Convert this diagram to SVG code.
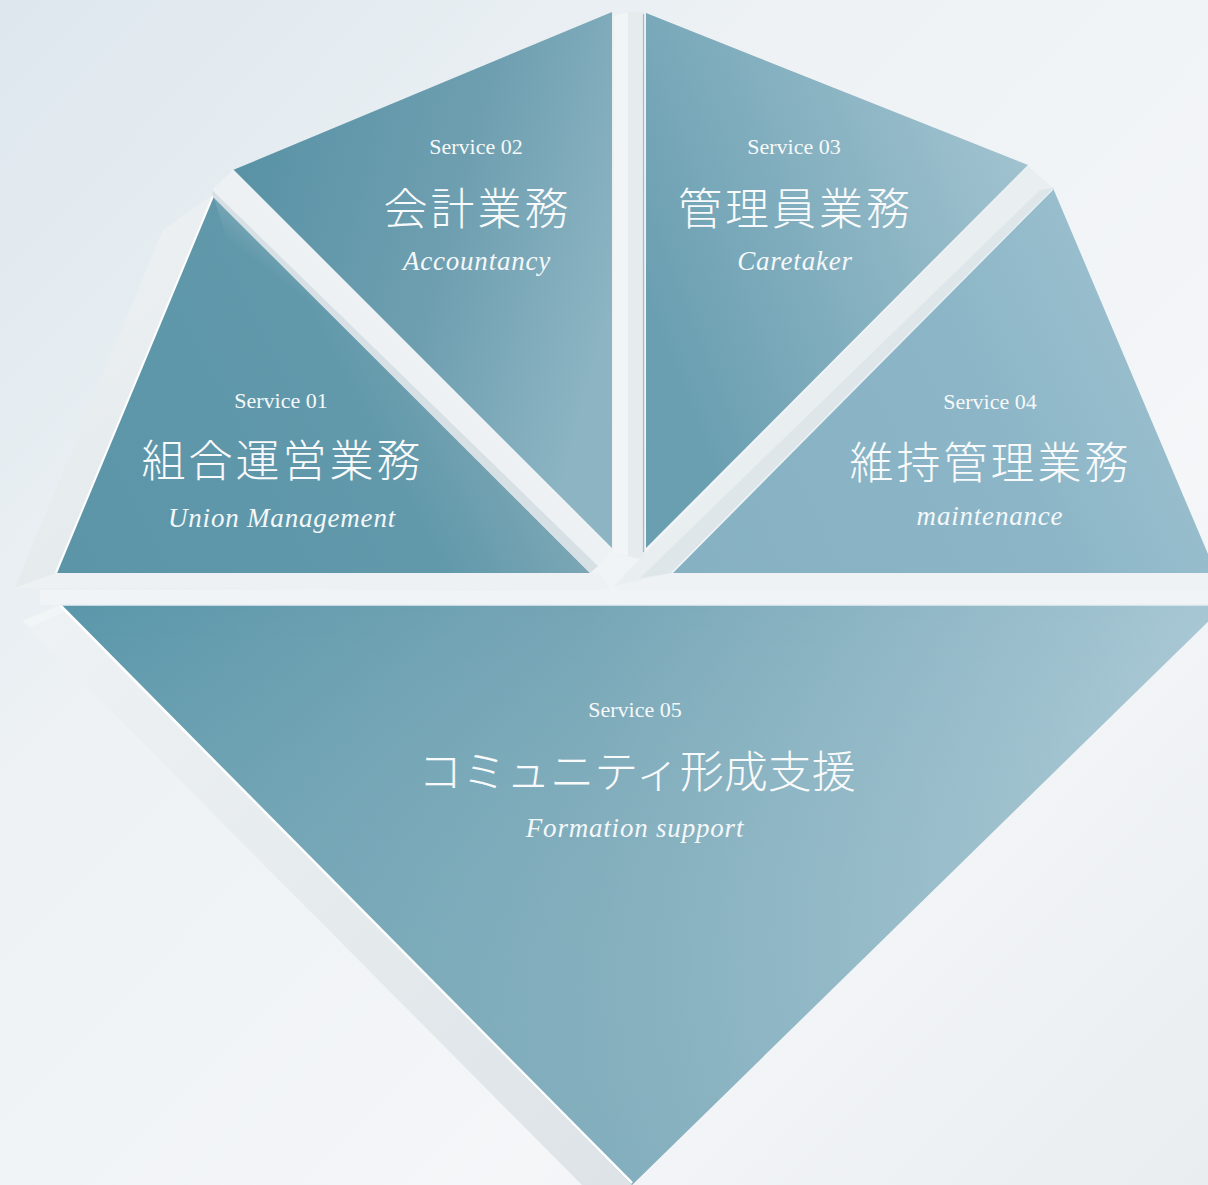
<svg xmlns="http://www.w3.org/2000/svg" width="1208" height="1185" viewBox="0 0 1208 1185">
  <defs>
    <linearGradient id="bg" x1="0" y1="0" x2="1208" y2="1185" gradientUnits="userSpaceOnUse">
      <stop offset="0" stop-color="#dde7ed"/>
      <stop offset="0.35" stop-color="#eef2f5"/>
      <stop offset="0.7" stop-color="#f4f6f8"/>
      <stop offset="1" stop-color="#e9edf0"/>
    </linearGradient>
    <linearGradient id="g1" x1="60" y1="560" x2="560" y2="300" gradientUnits="userSpaceOnUse">
      <stop offset="0" stop-color="#5c95a8"/>
      <stop offset="0.6" stop-color="#6199ab"/>
      <stop offset="1" stop-color="#8fb1bd"/>
    </linearGradient>
    <linearGradient id="g2" x1="240" y1="200" x2="612" y2="300" gradientUnits="userSpaceOnUse">
      <stop offset="0" stop-color="#5a93a6"/>
      <stop offset="0.55" stop-color="#6e9fb0"/>
      <stop offset="1" stop-color="#8cb4c3"/>
    </linearGradient>
    <linearGradient id="g3" x1="646" y1="300" x2="1028" y2="150" gradientUnits="userSpaceOnUse">
      <stop offset="0" stop-color="#6a9fb1"/>
      <stop offset="1" stop-color="#a2c3d0"/>
    </linearGradient>
    <linearGradient id="g4" x1="672" y1="560" x2="1208" y2="300" gradientUnits="userSpaceOnUse">
      <stop offset="0" stop-color="#86b1c2"/>
      <stop offset="0.6" stop-color="#8cb6c7"/>
      <stop offset="1" stop-color="#a0c3d1"/>
    </linearGradient>
    <linearGradient id="g5" x1="80" y1="700" x2="1200" y2="650" gradientUnits="userSpaceOnUse">
      <stop offset="0" stop-color="#5b97aa"/>
      <stop offset="0.45" stop-color="#76a6b6"/>
      <stop offset="1" stop-color="#a6c6d3"/>
    </linearGradient>
    <linearGradient id="g5v" x1="0" y1="605" x2="0" y2="1185" gradientUnits="userSpaceOnUse">
      <stop offset="0" stop-color="#ffffff" stop-opacity="0"/>
      <stop offset="1" stop-color="#9dbfcc" stop-opacity="0.3"/>
    </linearGradient>
    <linearGradient id="side" x1="0" y1="0" x2="1" y2="1">
      <stop offset="0" stop-color="#eef2f4"/>
      <stop offset="1" stop-color="#dde3e7"/>
    </linearGradient>
    <linearGradient id="shade1" x1="430" y1="330" x2="400" y2="370" gradientUnits="userSpaceOnUse">
      <stop offset="0" stop-color="#c7d5dc" stop-opacity="0.75"/>
      <stop offset="1" stop-color="#c7d5dc" stop-opacity="0"/>
    </linearGradient>
    <style>
      .face { stroke: none; }
      .side { fill: url(#side); }
      .svc { font-family: "Liberation Serif", serif; font-size: 22px; fill: #f6f9fa; text-anchor: middle; }
      .ttl { font-family: "Liberation Serif", "Noto Sans CJK JP", serif; font-size: 44px; font-weight: 300; letter-spacing: 3px; fill: #f8fafb; text-anchor: middle; }
      .sub { font-family: "Liberation Serif", serif; font-size: 27px; font-style: italic; letter-spacing: 0.8px; fill: #f4f8fa; text-anchor: middle; }
    </style>
  </defs>

  <!-- backdrop -->
  <rect width="1208" height="1185" fill="url(#bg)"/>

  <!-- Service 05: large inverted panel -->
  <g id="service-05">
    <polygon class="side" points="60,605 22,621 582,1185 632,1185" fill="#e1e6e9"/>
    <polygon points="22,621 60,605 64,612 30,627" fill="#f2f5f6"/>
    <rect x="40" y="590" width="1168" height="15" fill="#f1f4f6"/>
    <polygon class="face" points="60,605 1225,605 632,1185" fill="url(#g5)"/>
    <polygon class="face" points="60,605 1225,605 632,1185" fill="url(#g5v)"/>
    <line x1="60" y1="605" x2="632" y2="1183" stroke="#ffffff" stroke-width="2.5"/>
    <line x1="60" y1="605" x2="1208" y2="605" stroke="#e6eef2" stroke-width="1.5"/>
    <text class="svc" x="635" y="717">Service 05</text>
    <text class="ttl" x="637" y="788" style="letter-spacing:0">コミュニティ形成支援</text>
    <text class="sub" x="635" y="837">Formation support</text>
  </g>

  <!-- Service 01: lower-left panel -->
  <g id="service-01">
    <polygon class="side" points="213,195 163,230 15,588 600,590 590,573 56,573" fill="#e4e9ec"/>
    <polygon points="15,588 56,573 600,573 610,590" fill="#edf1f3"/>
    <polygon class="face" points="213,195 56,573 590,573" fill="url(#g1)"/>
    <polygon class="face" points="213,195 590,573 470,573 240,280" fill="url(#shade1)" opacity="0.5"/>
    <line x1="213" y1="196" x2="56" y2="573" stroke="#ffffff" stroke-width="2"/>
    <text class="svc" x="281" y="408">Service 01</text>
    <text class="ttl" x="282.5" y="477">組合運営業務</text>
    <text class="sub" x="282" y="527">Union Management</text>
  </g>

  <!-- Service 02: upper-left panel -->
  <g id="service-02">
    <polygon points="233,170 613,549 598,566 212,190" fill="#edf1f3"/>
    <polygon points="212,190 598,566 590,573 213,197" fill="#d7e0e5"/>
    <polygon class="face" points="233,170 612,12 612,549" fill="url(#g2)"/>
    <line x1="233" y1="170" x2="612" y2="549" stroke="#ffffff" stroke-width="1.5" stroke-opacity="0.7"/>
    <text class="svc" x="476" y="154">Service 02</text>
    <text class="ttl" x="477.5" y="225">会計業務</text>
    <text class="sub" x="477" y="270">Accountancy</text>
  </g>

  <!-- Service 03: upper-right panel -->
  <g id="service-03">
    <polygon points="614,16 628,12 644,12 645,560 614,553" fill="#e6ebee"/>
    <polygon points="614,16 628,12 628,556 614,553" fill="#f2f5f6"/>
    <line x1="643.5" y1="14" x2="643.5" y2="552" stroke="#aab9c1" stroke-width="1.2"/>
    <polygon class="face" points="646,13 1028,165 646,548" fill="url(#g3)"/>
    <text class="svc" x="794" y="154">Service 03</text>
    <text class="ttl" x="795.5" y="225">管理員業務</text>
    <text class="sub" x="795" y="270">Caretaker</text>
  </g>

  <!-- Service 04: right panel -->
  <g id="service-04">
    <polygon points="1028,166 1053,188 672,573 614,586 650,548" fill="#e9eef1"/>
    <polygon points="1053,188 1040,190 640,578 672,573" fill="#dfe6ea"/>
    <polygon points="614,586 672,573 1208,573 1208,590 618,590" fill="#eef2f4"/>
    <polygon class="face" points="1053,188 1216,573 672,573" fill="url(#g4)"/>
    <line x1="1053" y1="189" x2="672" y2="573" stroke="#ffffff" stroke-width="1.5" stroke-opacity="0.8"/>
    <text class="svc" x="990" y="409">Service 04</text>
    <text class="ttl" x="990.5" y="479">維持管理業務</text>
    <text class="sub" x="990" y="525">maintenance</text>
  </g>
</svg>
